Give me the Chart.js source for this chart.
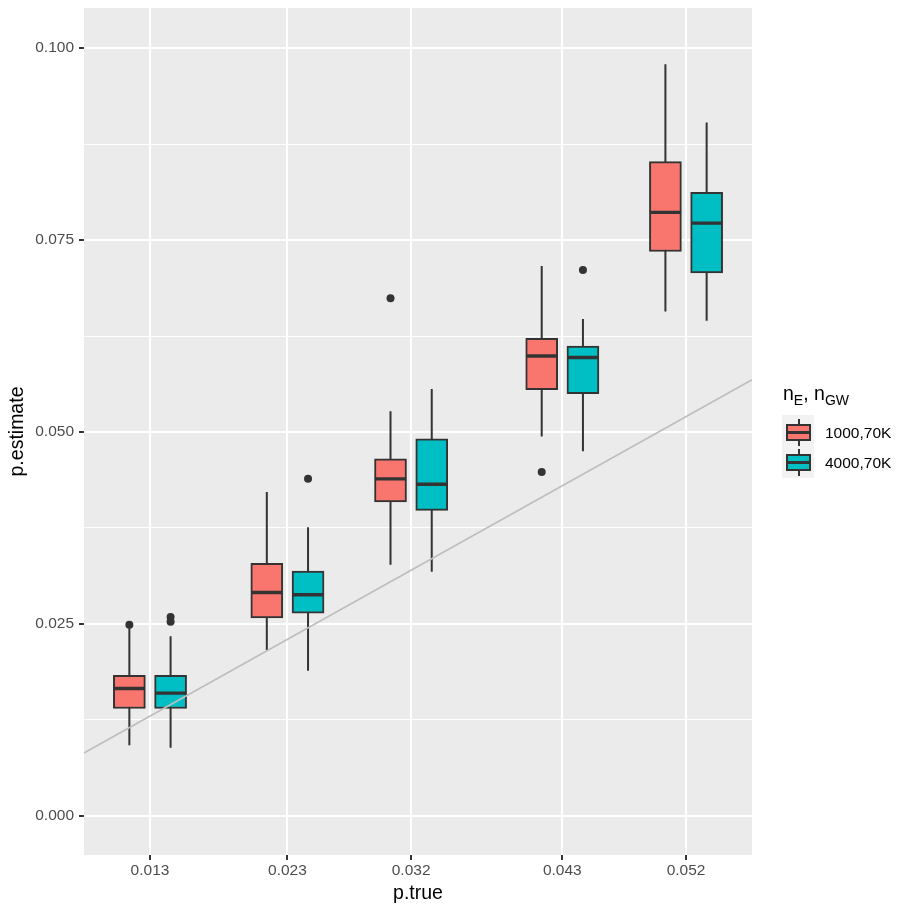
<!DOCTYPE html>
<html>
<head>
<meta charset="utf-8">
<script src="https://cdn.jsdelivr.net/npm/chart.js@4.4.1/dist/chart.umd.min.js"></script>
<style>
  html, body { margin: 0; padding: 0; background: #fff; }
  #wrap { position: relative; width: 913px; height: 913px; font-family: "Liberation Sans", Arial, sans-serif; }
  #chart { position: absolute; left: 0; top: 0; }
  .ltitle { position: absolute; left: 783px; top: 384px; font-size: 19.5px; line-height: 1; color: #000; white-space: nowrap; }
  .ltitle sub { font-size: 14px; }
  .keybg { position: absolute; left: 782px; top: 415px; width: 32px; height: 63px; background: #F2F2F2; }
  .wh { position: absolute; width: 2px; background: #333; left: 797.5px; }
  .bx { position: absolute; left: 786px; width: 25px; height: 17px; box-sizing: border-box; border: 2px solid #333; }
  .md { position: absolute; left: 0; right: 0; top: 5px; height: 3px; background: #333; }
  .llab { position: absolute; left: 825px; font-size: 15.5px; line-height: 30px; height: 30px; color: #000; white-space: nowrap; }
</style>
</head>
<body>
<div id="wrap">
  <canvas id="chart" width="913" height="913"></canvas>
  <div class="ltitle">n<sub>E</sub>, n<sub>GW</sub></div>
  <div class="keybg"></div>
  <div class="wh" style="top:419px;height:27px"></div>
  <div class="bx" style="top:424px;background:#F8766D"><div class="md"></div></div>
  <div class="wh" style="top:449px;height:27px"></div>
  <div class="bx" style="top:454px;background:#00BFC4"><div class="md"></div></div>
  <div class="llab" id="lab0" style="top:418px"></div>
  <div class="llab" id="lab1" style="top:448px"></div>
</div>
<script>
// x positions (p.true) and tick labels
const pTrue = [0.013, 0.023, 0.032, 0.043, 0.052];
const xTickLabels = ['0.013', '0.023', '0.032', '0.043', '0.052'];
const yTicks = [0, 0.025, 0.05, 0.075, 0.1];
const yTickLabels = ['0.000', '0.025', '0.050', '0.075', '0.100'];
const yMinorTicks = [0.0125, 0.0375, 0.0625, 0.0875];
const groups = ['1000,70K', '4000,70K'];
const fills = ['#F8766D', '#00BFC4'];

// box stats: whisker low, q1, median, q3, whisker high, outliers
const lo1000  = [0.0092, 0.0216, 0.0327, 0.0494, 0.0657];
const q1_1000 = [0.0140, 0.0258, 0.0409, 0.0555, 0.0735];
const med1000 = [0.0166, 0.0291, 0.0439, 0.0599, 0.0786];
const q3_1000 = [0.0183, 0.0329, 0.0465, 0.0622, 0.0852];
const hi1000  = [0.0245, 0.0422, 0.0527, 0.0716, 0.0979];
const out1000 = [[0.0249], [], [0.0674], [0.0448], []];

const lo4000  = [0.0089, 0.0189, 0.0318, 0.0475, 0.0645];
const q1_4000 = [0.0140, 0.0264, 0.0398, 0.0550, 0.0707];
const med4000 = [0.0160, 0.0288, 0.0432, 0.0597, 0.0772];
const q3_4000 = [0.0183, 0.0319, 0.0491, 0.0612, 0.0812];
const hi4000  = [0.0234, 0.0376, 0.0556, 0.0647, 0.0903];
const out4000 = [[0.0259, 0.0253], [0.0439], [], [0.0711], []];

const xMin = 0.0082, xMax = 0.0568;
const yMin = -0.00508, yMax = 0.10521;
const dodge = 0.0015, half = 0.00114;
const ink = '#333333';

function groupSets(g, lo, q1, med, q3, hi, outs, sign) {
  const xs = pTrue.map(p => p + sign * dodge);
  const whisk = [], meds = [], pts = [];
  xs.forEach((x, i) => {
    whisk.push({x, y: lo[i]}, {x, y: hi[i]}, {x, y: null});
    meds.push({x: x - half, y: med[i]}, {x: x + half, y: med[i]}, {x, y: null});
    outs[i].forEach(v => pts.push({x, y: v}));
  });
  return [
    { type: 'line', label: groups[g] + ' whisker', data: whisk, borderColor: ink, borderWidth: 2,
      pointRadius: 0, spanGaps: false, order: 4 },
    { type: 'bar', label: groups[g], data: xs.map((x, i) => ({x, y: [q1[i], q3[i]]})),
      backgroundColor: fills[g], borderColor: ink, borderWidth: 2, borderSkipped: false,
      barThickness: 32, grouped: false, order: 3 },
    { type: 'line', label: groups[g] + ' median', data: meds, borderColor: ink, borderWidth: 3.4,
      pointRadius: 0, spanGaps: false, order: 2 },
    { type: 'scatter', label: groups[g] + ' outliers', data: pts, backgroundColor: ink,
      borderColor: ink, pointRadius: 4, borderWidth: 0, order: 1 }
  ];
}

document.getElementById('lab0').textContent = groups[0];
document.getElementById('lab1').textContent = groups[1];

const panelBg = {
  id: 'panelBg',
  beforeDraw(chart) {
    const {ctx, chartArea: a} = chart;
    ctx.save();
    ctx.fillStyle = '#EBEBEB';
    ctx.fillRect(a.left, a.top, a.right - a.left, a.bottom - a.top);
    ctx.restore();
  }
};

Chart.defaults.font.family = '"Liberation Sans", Arial, sans-serif';
const isMinor = v => yMinorTicks.some(m => Math.abs(m - v) < 1e-9);

new Chart(document.getElementById('chart'), {
  type: 'bar',
  data: {
    datasets: [
      ...groupSets(0, lo1000, q1_1000, med1000, q3_1000, hi1000, out1000, -1),
      ...groupSets(1, lo4000, q1_4000, med4000, q3_4000, hi4000, out4000, 1),
      { type: 'line', label: 'y = x', data: [{x: xMin, y: xMin}, {x: xMax, y: xMax}],
        borderColor: '#BEBEBE', borderWidth: 1.6, pointRadius: 0, order: 0 }
    ]
  },
  options: {
    responsive: false,
    animation: false,
    layout: { padding: { top: 8, right: 161, left: 0, bottom: 0 } },
    plugins: { legend: { display: false }, tooltip: { enabled: false } },
    scales: {
      x: {
        type: 'linear', min: xMin, max: xMax, offset: false,
        afterBuildTicks: s => { s.ticks = pTrue.map(v => ({value: v})); },
        afterFit: s => { s.height = 58; s.paddingLeft = 0; s.paddingRight = 0; },
        ticks: { autoSkip: false, maxRotation: 0, color: '#4D4D4D', padding: 1,
                 font: { size: 15.5 }, callback: (v, i) => xTickLabels[i] },
        grid: { offset: false, color: '#FFFFFF', lineWidth: 2, tickLength: 5, tickColor: ink, tickWidth: 2 },
        border: { display: false },
        title: { display: true, text: 'p.true', color: '#000', font: { size: 19.5 },
                 padding: { top: 2, bottom: 8 } }
      },
      y: {
        type: 'linear', min: yMin, max: yMax, beginAtZero: false,
        afterBuildTicks: s => {
          s.ticks = [...yTicks, ...yMinorTicks].sort((a, b) => a - b).map(v => ({value: v}));
        },
        afterFit: s => { s.width = 84; s.paddingTop = 0; s.paddingBottom = 0; },
        ticks: { autoSkip: false, color: '#4D4D4D', padding: 5, font: { size: 15.5 },
                 callback: v => { const i = yTicks.findIndex(t => Math.abs(t - v) < 1e-9); return i < 0 ? '' : yTickLabels[i]; } },
        grid: {
          color: '#FFFFFF',
          lineWidth: c => (c.tick && isMinor(c.tick.value)) ? 1 : 2,
          tickLength: 5,
          tickColor: c => (c.tick && isMinor(c.tick.value)) ? 'rgba(0,0,0,0)' : ink,
          tickWidth: 2
        },
        border: { display: false },
        title: { display: true, text: 'p.estimate', color: '#000', font: { size: 19.5 },
                 padding: { top: 6, bottom: 0 } }
      }
    }
  },
  plugins: [panelBg]
});
</script>
</body>
</html>
